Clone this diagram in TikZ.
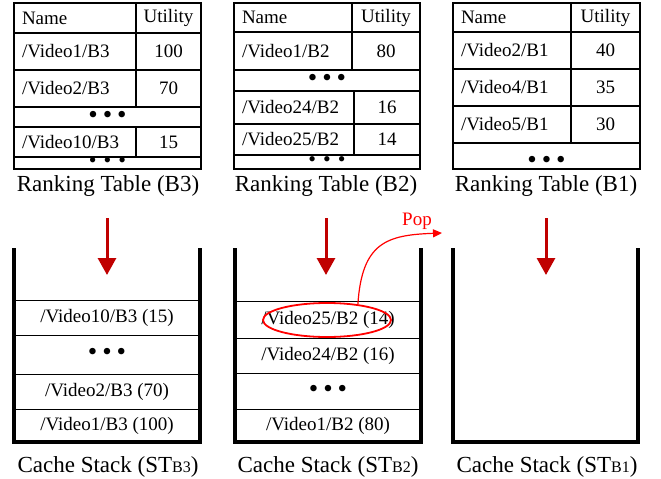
\documentclass[tikz,border=0pt]{standalone}
\usepackage{fontspec}
\setmainfont{Liberation Serif}
\usetikzlibrary{shapes.geometric, arrows.meta, positioning}
\definecolor{dark_red}{RGB}{192, 0, 0}
\definecolor{pop_red}{RGB}{255, 0, 0}
\def \tabfont {\fontsize{19}{22}\selectfont}
\def \capfont {\fontsize{23}{26}\selectfont}
\def \dotrow {{\fontsize{27}{27}\selectfont\textbullet\hspace{5pt}\textbullet\hspace{5pt}\textbullet}}
\def \thindots {{\fontsize{22}{22}\selectfont\textbullet\hspace{7pt}\textbullet\hspace{7pt}\textbullet}}

\begin{document}
\begin{tikzpicture}[
    x=1pt, y=-1pt,
    cell/.style n args={2}{
        rectangle,
        draw,
        line width=1.3pt,
        inner sep=0pt,
        minimum width=#1,
        minimum height=#2,
        font=\tabfont
    },
    namecol/.style={
        text width=#1,
        align=left,
        inner xsep=8pt
    },
    row/.style={
        rectangle,
        draw,
        line width=0.8pt,
        inner sep=0pt,
        minimum width=186pt,
        minimum height=#1,
        font=\tabfont
    },
    caption/.style={
        inner sep=0pt,
        font=\capfont
    },
    wall/.style={
        line width=4.5pt
    },
    drop/.style={
        -{Triangle[length=17pt,width=18pt]},
        line width=3pt,
        dark_red
    },
    pick/.style={
        ellipse,
        draw=pop_red,
        line width=1.8pt,
        inner sep=0pt,
        minimum width=128pt,
        minimum height=34pt
    },
    pop/.style={
        -{Triangle[length=9pt,width=8pt]},
        line width=1.2pt,
        pop_red
    }
]
\useasboundingbox (0,0) rectangle (661,479);

% Ranking table B3
\node[cell={122pt}{30pt}, namecol=106pt] (t3h) at (75,18) {Name};
\node[cell={65pt}{30pt}] (t3u) at (168.5,18) {Utility};
\node[cell={122pt}{37pt}, namecol=106pt] (t3n1) at (75,51.5) {/Video1/B3};
\node[cell={65pt}{37pt}] (t3u1) at (168.5,51.5) {100};
\node[cell={122pt}{37pt}, namecol=106pt] (t3n2) at (75,88.5) {/Video2/B3};
\node[cell={65pt}{37pt}] (t3u2) at (168.5,88.5) {70};
\node[cell={187pt}{20pt}] (t3d1) at (107.5,117) {\dotrow};
\node[cell={122pt}{30pt}, namecol=106pt] (t3n3) at (75,142) {/Video10/B3};
\node[cell={65pt}{30pt}] (t3u3) at (168.5,142) {15};
\node[cell={187pt}{12pt}] (t3d2) at (107.5,163) {\thindots};
\node[caption] (capt3) at (108,186) {Ranking Table (B3)};

% Ranking table B2
\node[cell={118pt}{29pt}, namecol=102pt] (t2h) at (293,17.5) {Name};
\node[cell={68pt}{29pt}] (t2u) at (386,17.5) {Utility};
\node[cell={118pt}{38pt}, namecol=102pt] (t2n1) at (293,51) {/Video1/B2};
\node[cell={68pt}{38pt}] (t2u1) at (386,51) {80};
\node[cell={186pt}{21pt}] (t2d1) at (327,80.5) {\dotrow};
\node[cell={120pt}{33pt}, namecol=104pt] (t2n2) at (294,107.5) {/Video24/B2};
\node[cell={66pt}{33pt}] (t2u2) at (387,107.5) {16};
\node[cell={120pt}{31pt}, namecol=104pt] (t2n3) at (294,139.5) {/Video25/B2};
\node[cell={66pt}{31pt}] (t2u3) at (387,139.5) {14};
\node[cell={186pt}{14pt}] (t2d2) at (327,162) {\thindots};
\node[caption] (capt2) at (326,186) {Ranking Table (B2)};

% Ranking table B1
\node[cell={118pt}{29pt}, namecol=102pt] (t1h) at (512,17.5) {Name};
\node[cell={69pt}{29pt}] (t1u) at (605.5,17.5) {Utility};
\node[cell={118pt}{37pt}, namecol=102pt] (t1n1) at (512,50.5) {/Video2/B1};
\node[cell={69pt}{37pt}] (t1u1) at (605.5,50.5) {40};
\node[cell={118pt}{37pt}, namecol=102pt] (t1n2) at (512,87.5) {/Video4/B1};
\node[cell={69pt}{37pt}] (t1u2) at (605.5,87.5) {35};
\node[cell={118pt}{37pt}, namecol=102pt] (t1n3) at (512,124.5) {/Video5/B1};
\node[cell={69pt}{37pt}] (t1u3) at (605.5,124.5) {30};
\node[cell={187pt}{26pt}] (t1d1) at (546.5,156) {};
\node[font=\tabfont, inner sep=0pt] (t1dots) at (546.5,162) {\dotrow};
\node[caption] (capt1) at (546,186) {Ranking Table (B1)};

% Cache stack B3
\node[row=35pt] (s3r1) at (107,317.5) {/Video10/B3 (15)};
\node[row=39pt] (s3r2) at (107,354.5) {\dotrow};
\node[row=35pt] (s3r3) at (107,391.5) {/Video2/B3 (70)};
\node[row=33pt] (s3r4) at (107,425.5) {/Video1/B3 (100)};
\draw[wall] (14,248) -- (14,442) -- (200,442) -- (200,248);
\node[caption] (caps3) at (108,467) {Cache Stack (ST{\fontsize{16}{16}\selectfont B3})};

% Cache stack B2
\node[row=37pt] (s2r1) at (328,319.5) {/Video25/B2 (14)};
\node[row=35pt] (s2r2) at (328,355.5) {/Video24/B2 (16)};
\node[row=36pt] (s2r3) at (328,391) {\dotrow};
\node[row=33pt] (s2r4) at (328,425.5) {/Video1/B2 (80)};
\draw[wall] (235,248) -- (235,442) -- (421,442) -- (421,248);
\node[caption] (caps2) at (328,467) {Cache Stack (ST{\fontsize{16}{16}\selectfont B2})};

% Cache stack B1 (empty)
\draw[wall] (453,248) -- (453,442) -- (638,442) -- (638,248);
\node[caption] (caps1) at (547,467) {Cache Stack (ST{\fontsize{16}{16}\selectfont B1})};

% Pushing arrows
\foreach \x/\n in {107/3, 326/2, 546/1} {
    \coordinate (drop\n) at (\x,218);
    \draw[drop] (drop\n) -- ++(0,57);
}

% Popped entry
\node[pick] (sel) at (327,320) {};
\coordinate (popend) at (442,233);
\draw[pop] (sel.27) .. controls +(4,-62) and +(-55,2) .. (popend);
\node[font=\tabfont, text=pop_red, inner sep=0pt] (poplabel) at (417,221) {Pop};

\end{tikzpicture}
\end{document}
